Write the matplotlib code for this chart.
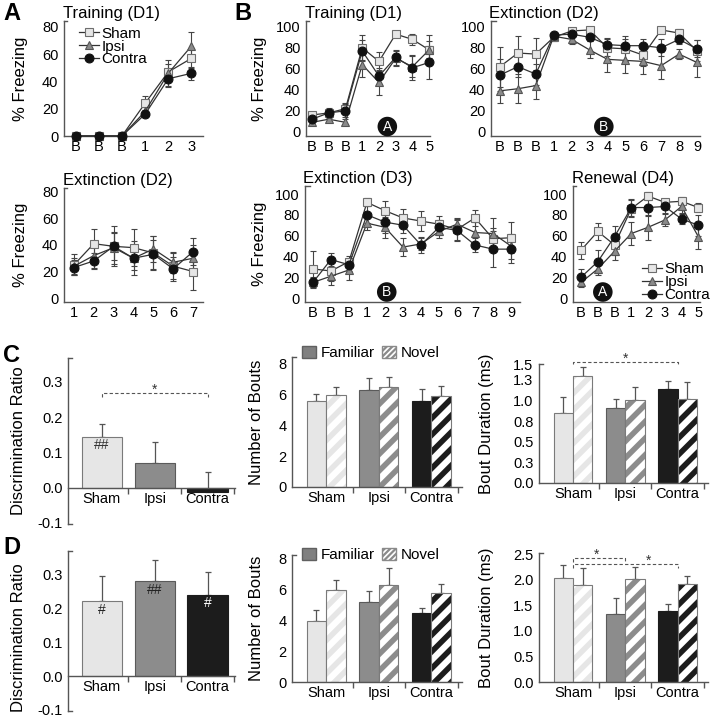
"""
fear conditioning + object recognition figure
line panels (A, B) for % freezing, bar panels (C, D) for recognition
"""

import matplotlib
matplotlib.use("Agg")
import matplotlib.pyplot as plt
from matplotlib.patches import Patch
import numpy as np

plt.rcParams['font.family'] = ['Liberation Sans', 'DejaVu Sans']
plt.rcParams['hatch.linewidth'] = 4.0

W, H = 711, 720

groups = ["Sham", "Ipsi", "Contra"]

# ---- panel A ----
a_train_ticks = ["B", "B", "B", "1", "2", "3"]
a_train_sham = [0, 0, 0, 24, 47, 57]
a_train_sham_err = [0, 0, 0, 5, 6, 7]
a_train_ipsi = [0, 0, 0, 18, 46, 66]
a_train_ipsi_err = [0, 0, 0, 3, 10, 10]
a_train_contra = [0, 0, 0, 16, 42, 46]
a_train_contra_err = [0, 0, 0, 2, 5, 5]

a_ext_ticks = ["1", "2", "3", "4", "5", "6", "7"]
a_ext_sham = [25, 41, 39, 38, 34, 24, 20]
a_ext_sham_err = [8, 11, 15, 14, 13, 10, 14]
a_ext_ipsi = [24, 32, 38, 30, 37, 27, 30]
a_ext_ipsi_err = [6, 9, 12, 13, 10, 8, 10]
a_ext_contra = [23, 28, 39, 30, 33, 22, 35]
a_ext_contra_err = [6, 6, 10, 9, 11, 9, 10]

# ---- panel B ----
b_train_ticks = ["B", "B", "B", "1", "2", "3", "4", "5"]
b_train_sham = [16, 18, 22, 80, 67, 93, 88, 78]
b_train_sham_err = [3, 4, 5, 12, 9, 3, 5, 14]
b_train_ipsi = [9, 12, 9, 64, 47, 70, 62, 78]
b_train_ipsi_err = [3, 3, 3, 12, 12, 7, 10, 8]
b_train_contra = [12, 18, 20, 77, 53, 71, 61, 66]
b_train_contra_err = [3, 5, 6, 10, 8, 7, 12, 16]

b_ext2_ticks = ["B", "B", "B", "1", "2", "3", "4", "5", "6", "7", "8", "9"]
b_ext2_sham = [62, 75, 74, 90, 96, 97, 80, 79, 73, 97, 94, 77]
b_ext2_sham_err = [19, 16, 15, 4, 3, 2, 8, 12, 10, 3, 4, 10]
b_ext2_ipsi = [39, 41, 44, 91, 88, 78, 69, 68, 67, 63, 74, 66]
b_ext2_ipsi_err = [12, 14, 13, 4, 4, 8, 12, 12, 12, 13, 5, 14]
b_ext2_contra = [54, 62, 55, 92, 93, 90, 83, 82, 82, 80, 88, 79]
b_ext2_contra_err = [15, 10, 10, 3, 3, 4, 6, 6, 6, 8, 4, 8]

b_ext3_ticks = ["B", "B", "B", "1", "2", "3", "4", "5", "6", "7", "8", "9"]
b_ext3_sham = [28, 26, 35, 92, 84, 77, 74, 71, 66, 77, 57, 58]
b_ext3_sham_err = [17, 10, 5, 4, 9, 9, 10, 8, 10, 8, 10, 15]
b_ext3_ipsi = [15, 21, 27, 72, 68, 49, 52, 64, 71, 63, 62, 50]
b_ext3_ipsi_err = [5, 8, 10, 7, 10, 9, 6, 6, 6, 10, 15, 12]
b_ext3_contra = [15, 37, 32, 80, 73, 70, 51, 68, 65, 51, 47, 47]
b_ext3_contra_err = [4, 6, 6, 8, 10, 7, 8, 7, 10, 7, 17, 13]

b_ren_ticks = ["B", "B", "B", "1", "2", "3", "4", "5"]
b_ren_sham = [46, 64, 51, 86, 98, 92, 93, 87]
b_ren_sham_err = [8, 8, 10, 8, 4, 3, 4, 4]
b_ren_ipsi = [15, 28, 45, 62, 68, 75, 88, 59]
b_ren_ipsi_err = [4, 6, 8, 11, 12, 6, 6, 12]
b_ren_contra = [20, 35, 59, 87, 87, 88, 76, 70]
b_ren_contra_err = [8, 11, 10, 8, 8, 6, 5, 10]

# ---- panel C ----
c_ratio = [0.145, 0.071, -0.012]
c_ratio_err = [0.036, 0.058, 0.057]
c_bouts_fam = [5.57, 6.27, 5.57]
c_bouts_fam_err = [0.43, 0.80, 0.75]
c_bouts_nov = [5.93, 6.49, 5.85]
c_bouts_nov_err = [0.50, 0.62, 0.68]
c_dur_fam = [0.85, 0.91, 1.14]
c_dur_fam_err = [0.19, 0.11, 0.09]
c_dur_nov = [1.30, 1.01, 1.02]
c_dur_nov_err = [0.10, 0.15, 0.20]
# the original axis tops out just under 1.5 but labels that end "1.5"
c_dur_ticks = [0, 0.25, 0.5, 0.75, 1.0, 1.25, 1.44]
c_dur_ticklabels = ["0.0", "0.3", "0.5", "0.8", "1.0", "1.3", "1.5"]

# ---- panel D ----
d_ratio = [0.221, 0.279, 0.238]
d_ratio_err = [0.074, 0.062, 0.067]
d_bouts_fam = [3.96, 5.14, 4.45]
d_bouts_fam_err = [0.69, 0.71, 0.31]
d_bouts_nov = [5.91, 6.29, 5.77]
d_bouts_nov_err = [0.69, 1.09, 0.56]
d_dur_fam = [2.03, 1.33, 1.39]
d_dur_fam_err = [0.26, 0.31, 0.13]
d_dur_nov = [1.90, 2.01, 1.91]
d_dur_nov_err = [0.33, 0.23, 0.16]

# styling
line_style = {
    "Sham": dict(marker='s', mfc='#e6e6e6', mec='#6e6e6e', ms=6, mew=0.8),
    "Ipsi": dict(marker='^', mfc='#8a8a8a', mec='#555555', ms=6.4, mew=0.8),
    "Contra": dict(marker='o', mfc='#111111', mec='#111111', ms=6.4, mew=0.8),
}
bar_face = ['#e6e6e6', '#8c8c8c', '#1c1c1c']
bar_edge = ['#7a7a7a', '#5a5a5a', '#1c1c1c']
AX_COLOR = '#555555'
TICK_FS = 10.5
LABEL_FS = 12

fig = plt.figure(figsize=(W / 100, H / 100), dpi=100)


def px_axes(left, top, right, bottom):
    # place an axes from pixel edges of the reference
    return fig.add_axes([left / W, 1 - bottom / H, (right - left) / W, (bottom - top) / H])


def base_style(ax, ylabel=None, label_x=None, label_y=0.5):
    for s in ['top', 'right']:
        ax.spines[s].set_visible(False)
    for s in ['left', 'bottom']:
        ax.spines[s].set_color(AX_COLOR)
        ax.spines[s].set_linewidth(1.0)
    ax.tick_params(axis='y', length=0, labelsize=TICK_FS, pad=4)
    ax.tick_params(axis='x', length=0, labelsize=TICK_FS, pad=3)
    # little end mark at the top of the y spine
    ax.plot([0, 0.025], [1, 1], transform=ax.transAxes, color=AX_COLOR, lw=1.0, clip_on=False)
    if ylabel:
        ax.set_ylabel(ylabel, fontsize=LABEL_FS)
        pos = ax.get_position()
        ax.yaxis.set_label_coords((label_x / W - pos.x0) / pos.width, label_y)


def freezing_panel(box, ticks, series, ylim, yticks, title, ylabel_x=None, xpad=(0.5, 0.5)):
    ax = px_axes(*box)
    x = np.arange(len(ticks))
    lines = []
    for name, (vals, errs) in zip(groups, series):
        ax.errorbar(x, vals, yerr=errs, fmt='none', ecolor='#444444', elinewidth=0.8,
                    capsize=2, capthick=0.8, clip_on=False, zorder=2)
    for name, (vals, errs) in zip(groups, series):
        ln, = ax.plot(x, vals, color='#333333', lw=0.9, label=name, clip_on=False,
                      zorder=3, **line_style[name])
        lines.append(ln)
    ax.set_xlim(-xpad[0], len(ticks) - 1 + xpad[1])
    ax.set_ylim(*ylim)
    ax.set_yticks(yticks)
    ax.set_xticks(x)
    ax.set_xticklabels(ticks)
    ax.set_title(title, loc='left', fontsize=LABEL_FS, pad=2, x=-0.01)
    base_style(ax, "% Freezing" if ylabel_x else None, ylabel_x)
    return ax, lines


def circle_tag(ax, x, y, letter):
    ax.text(x, y, letter, ha='center', va='center', color='white', fontsize=10,
            bbox=dict(boxstyle='circle,pad=0.2', fc='#111111', ec='none'), zorder=5)


def line_legend(ax, lines, anchor, loc):
    ax.legend(handles=lines, loc=loc, bbox_to_anchor=anchor, frameon=False, fontsize=11,
              handlelength=1.3, handletextpad=0.15, labelspacing=-0.08, borderpad=0,
              borderaxespad=0)


def bar_axis_style(ax, xlim):
    ax.set_xlim(*xlim)
    ax.set_xticks(range(3))
    ax.set_xticklabels(groups)
    ax.set_xticks([0.5, 1.5, 2.5], minor=True)
    ax.tick_params(axis='x', which='minor', length=4, width=1.0, color=AX_COLOR, direction='out')


def ratio_panel(box, vals, errs, marks, ylabel_x, label_y=0.5):
    ax = px_axes(*box)
    x = np.arange(3)
    ax.bar(x, vals, width=0.76, color=bar_face, edgecolor=bar_edge, linewidth=0.8, zorder=2)
    ax.errorbar(x, vals, yerr=[np.zeros(3), errs], fmt='none', ecolor='#555555',
                elinewidth=0.9, capsize=2.5, capthick=0.9, zorder=1, clip_on=False)
    ax.set_ylim(-0.103, 0.368)
    ax.set_yticks([-0.1, 0.0, 0.1, 0.2, 0.3])
    ax.set_yticklabels(["-0.1", "0.0", "0.1", "0.2", "0.3"])
    ax.spines['bottom'].set_position(('data', 0))
    base_style(ax, "Discrimination Ratio", ylabel_x, label_y)
    ax.plot([0, 0.025], [0, 0], transform=ax.transAxes, color=AX_COLOR, lw=1.0, clip_on=False)
    bar_axis_style(ax, (-0.64, 2.52))
    for xi, (txt, y, col) in zip(x, marks):
        if txt:
            ax.text(xi, y, txt, ha='center', va='center', fontsize=10, color=col, zorder=4)
    return ax


def paired_panel(box, fam, fam_err, nov, nov_err, ylim, yticks, ylabel, ylabel_x,
                 yticklabels=None):
    ax = px_axes(*box)
    x = np.arange(3)
    w = 0.37
    ax.bar(x - w / 2, fam, width=w, color=bar_face, edgecolor=bar_edge, linewidth=0.8, zorder=2)
    # hatched novel bars: stripes in the group colour on white, then a grey outline
    ax.bar(x + w / 2, nov, width=w, color='white', edgecolor=bar_face, hatch='//',
           linewidth=0, zorder=2)
    ax.bar(x + w / 2, nov, width=w, fill=False, edgecolor=bar_edge[0], linewidth=0.8, zorder=3)
    ax.errorbar(x - w / 2, fam, yerr=[np.zeros(3), fam_err], fmt='none', ecolor='#555555',
                elinewidth=0.9, capsize=2.5, capthick=0.9, zorder=1, clip_on=False)
    ax.errorbar(x + w / 2, nov, yerr=[np.zeros(3), nov_err], fmt='none', ecolor='#555555',
                elinewidth=0.9, capsize=2.5, capthick=0.9, zorder=1, clip_on=False)
    ax.set_ylim(*ylim)
    ax.set_yticks(yticks)
    if yticklabels:
        ax.set_yticklabels(yticklabels)
    base_style(ax, ylabel, ylabel_x)
    bar_axis_style(ax, (-0.65, 2.58))
    return ax


def bout_legend(ax, anchor):
    with plt.rc_context({'hatch.linewidth': 1.6}):
        handles = [Patch(facecolor='#808080', edgecolor='#606060', label='Familiar'),
                   Patch(facecolor='white', edgecolor='#8a8a8a', hatch='//////', label='Novel')]
        ax.legend(handles=handles, loc='center left', bbox_to_anchor=anchor, ncol=2,
                  frameon=False, fontsize=11, handlelength=0.9, handleheight=0.9,
                  handletextpad=0.3, columnspacing=0.5, borderpad=0, borderaxespad=0)


def sig_bracket(ax, x0, x1, y, drop, star_x, star_dy):
    ax.plot([x0, x0, x1, x1], [y - drop, y, y, y - drop], ls=(0, (3, 2)), color='#555555',
            lw=0.8, clip_on=False, zorder=4)
    ax.text(star_x, y + star_dy, '*', ha='center', va='center', fontsize=10, color='#333333')


# ---- A ----
axA1, linesA = freezing_panel(
    (64, 21, 203, 136), a_train_ticks,
    [(a_train_sham, a_train_sham_err), (a_train_ipsi, a_train_ipsi_err),
     (a_train_contra, a_train_contra_err)],
    (0, 84.4), [0, 20, 40, 60, 80], "Training (D1)", ylabel_x=28)
line_legend(axA1, linesA, (0.11, 0.95), 'upper left')

freezing_panel(
    (64, 188, 203, 302), a_ext_ticks,
    [(a_ext_sham, a_ext_sham_err), (a_ext_ipsi, a_ext_ipsi_err),
     (a_ext_contra, a_ext_contra_err)],
    (-3, 83), [0, 20, 40, 60, 80], "Extinction (D2)", ylabel_x=28)

# ---- B ----
b_yticks = [0, 20, 40, 60, 80, 100]
axB1, _ = freezing_panel(
    (306, 21, 430, 136), b_train_ticks,
    [(b_train_sham, b_train_sham_err), (b_train_ipsi, b_train_ipsi_err),
     (b_train_contra, b_train_contra_err)],
    (-4, 105.5), b_yticks, "Training (D1)", ylabel_x=267, xpad=(0.36, 0.05))
circle_tag(axB1, 4.5, 5, "A")

axB2, _ = freezing_panel(
    (491, 21, 700, 136), b_ext2_ticks,
    [(b_ext2_sham, b_ext2_sham_err), (b_ext2_ipsi, b_ext2_ipsi_err),
     (b_ext2_contra, b_ext2_contra_err)],
    (-4, 105.5), b_yticks, "Extinction (D2)", xpad=(0.5, 0.17))
circle_tag(axB2, 5.8, 5, "B")

axB3, _ = freezing_panel(
    (305, 186, 520, 302), b_ext3_ticks,
    [(b_ext3_sham, b_ext3_sham_err), (b_ext3_ipsi, b_ext3_ipsi_err),
     (b_ext3_contra, b_ext3_contra_err)],
    (-3.8, 107.7), b_yticks, "Extinction (D3)", ylabel_x=267, xpad=(0.44, 0.5))
circle_tag(axB3, 4.1, 5.8, "B")

axB4, linesB = freezing_panel(
    (573, 186, 700, 302), b_ren_ticks,
    [(b_ren_sham, b_ren_sham_err), (b_ren_ipsi, b_ren_ipsi_err),
     (b_ren_contra, b_ren_contra_err)],
    (-3.8, 107.7), b_yticks, "Renewal (D4)", xpad=(0.48, 0.1))
circle_tag(axB4, 1.3, 5.8, "A")
line_legend(axB4, linesB, (1.08, 0.0), 'lower right')

# ---- C ----
axC1 = ratio_panel((68, 358, 235, 524), c_ratio, c_ratio_err,
                   [("##", 0.12, '#333333'), ("", 0, ''), ("", 0, '')], ylabel_x=26)
sig_bracket(axC1, 0, 2, 0.27, 0.012, 1, 0.008)

axC2 = paired_panel((292, 357, 462, 487), c_bouts_fam, c_bouts_fam_err,
                    c_bouts_nov, c_bouts_nov_err, (0, 8.4), [0, 2, 4, 6, 8],
                    "Number of Bouts", 264)
bout_legend(axC2, (0.06, 1.03))

axC3 = paired_panel((539, 364, 708, 483), c_dur_fam, c_dur_fam_err,
                    c_dur_nov, c_dur_nov_err, (0, 1.44), c_dur_ticks,
                    "Bout Duration (ms)", 494, yticklabels=c_dur_ticklabels)
sig_bracket(axC3, 0, 2, 1.47, 0.03, 1.0, 0.035)

# ---- D ----
axD1 = ratio_panel((68, 551, 235, 711), d_ratio, d_ratio_err,
                   [("#", 0.195, '#222222'), ("##", 0.254, '#222222'), ("#", 0.214, 'white')],
                   ylabel_x=26, label_y=0.46)

axD2 = paired_panel((292, 555, 462, 682), d_bouts_fam, d_bouts_fam_err,
                    d_bouts_nov, d_bouts_nov_err, (0, 8.2), [0, 2, 4, 6, 8],
                    "Number of Bouts", 264)
bout_legend(axD2, (0.06, 1.0))

axD3 = paired_panel((539, 553, 708, 682), d_dur_fam, d_dur_fam_err,
                    d_dur_nov, d_dur_nov_err, (0, 2.52), [0, 0.5, 1.0, 1.5, 2.0, 2.5],
                    "Bout Duration (ms)", 494,
                    yticklabels=["0.0", "0.5", "1.0", "1.5", "2.0", "2.5"])
sig_bracket(axD3, 0, 1, 2.43, 0.08, 0.44, 0.06)
sig_bracket(axD3, 0, 2, 2.31, 0.08, 1.45, 0.06)

# panel letters
for letter, (px, py) in {"A": (3, 14), "B": (234, 14), "C": (3, 356), "D": (3, 548)}.items():
    fig.text(px / W, 1 - py / H, letter, fontsize=17, fontweight='bold', va='center', ha='left')

fig.savefig("out.png", dpi=100)
